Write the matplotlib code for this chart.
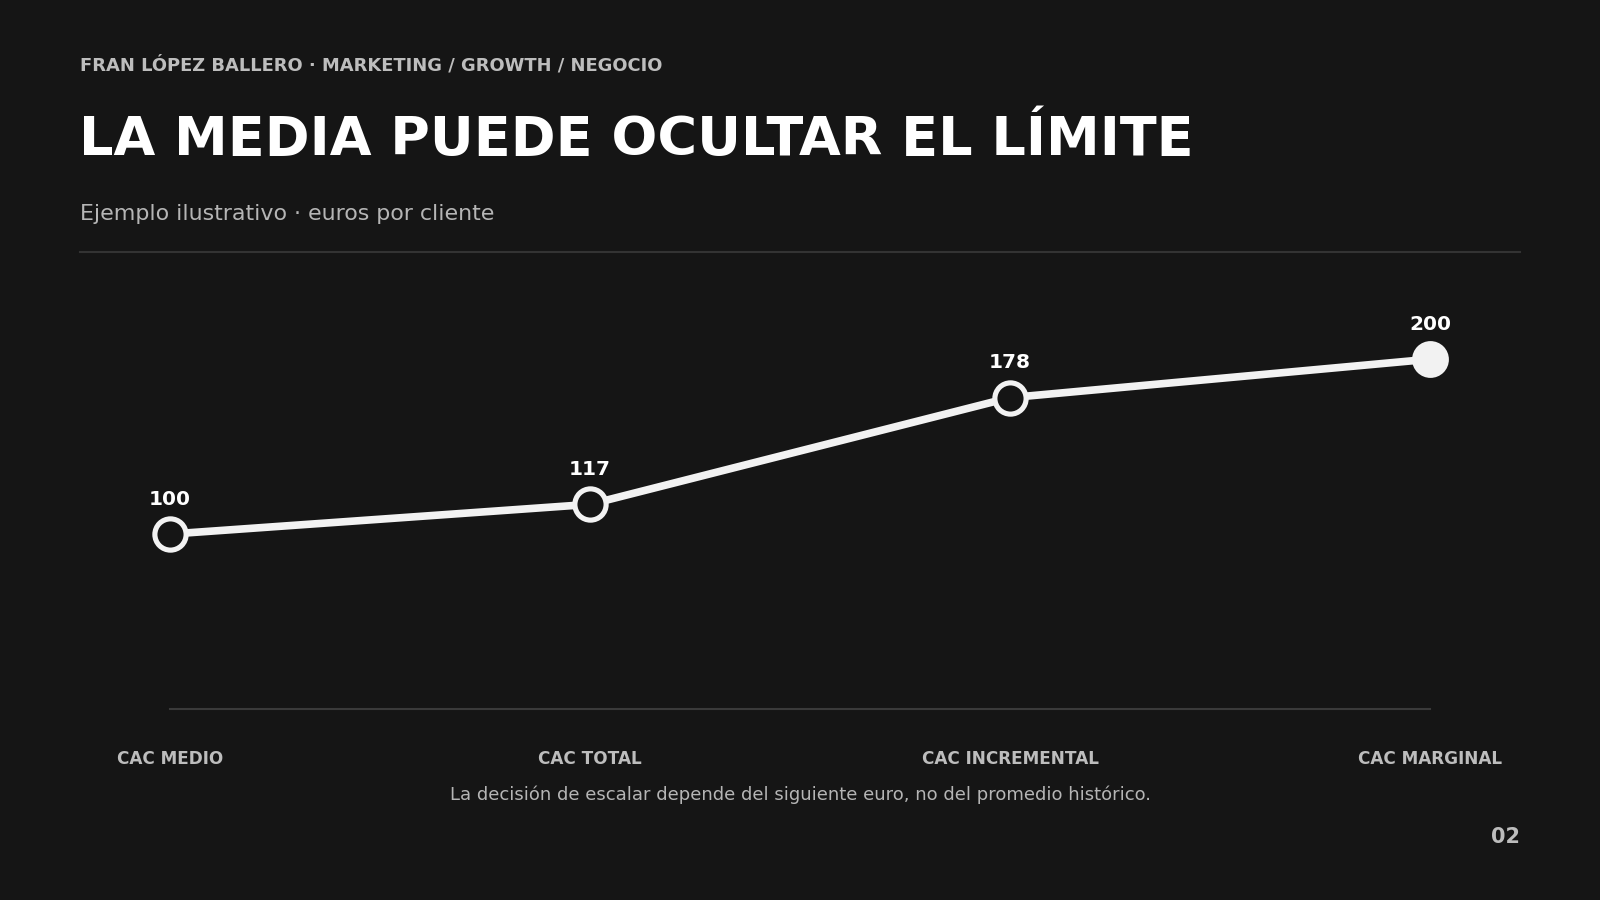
import matplotlib
matplotlib.use('Agg')
import matplotlib.pyplot as plt

categorias = ['CAC MEDIO', 'CAC TOTAL', 'CAC INCREMENTAL', 'CAC MARGINAL']
valores = [100, 117, 178, 200]

BG = '#151515'
W, H = 1600, 900

fig = plt.figure(figsize=(16, 9), dpi=100, facecolor=BG)
plt.rcParams['font.family'] = ['DejaVu Sans']

# cabecera
fig.text(80 / W, 1 - 71 / H, 'FRAN LÓPEZ BALLERO · MARKETING / GROWTH / NEGOCIO',
         color='#bdbdbd', fontsize=12.9, fontweight='bold', va='baseline', ha='left')
fig.text(79 / W, 1 - 155 / H, 'LA MEDIA PUEDE OCULTAR EL LÍMITE',
         color='white', fontsize=38.9, fontweight='bold', va='baseline', ha='left')
fig.text(80 / W, 1 - 220 / H, 'Ejemplo ilustrativo · euros por cliente',
         color='#b5b5b5', fontsize=15.9, va='baseline', ha='left')
fig.add_artist(plt.Line2D([80 / W, 1520 / W], [1 - 252 / H, 1 - 252 / H],
                          transform=fig.transFigure, color='#333333', lw=1.5))

# grafico
x0, x1 = 170, 1430
y_top, y_bot = 289.2, 709
ax = fig.add_axes([x0 / W, 1 - y_bot / H, (x1 - x0) / W, (y_bot - y_top) / H])
ax.set_facecolor(BG)
ax.set_xlim(0, len(categorias) - 1)
ax.set_ylim(0, 240)
for s in ax.spines.values():
    s.set_visible(False)
ax.set_xticks([])
ax.set_yticks([])

xs = list(range(len(categorias)))
ax.axhline(0, color='#3a3a3a', lw=1.5, clip_on=False)
ax.plot(xs, valores, color='#f2f2f2', lw=5.5, solid_capstyle='round', zorder=2, clip_on=False)
ax.plot(xs[:-1], valores[:-1], 'o', ms=22.5, mfc=BG, mec='#f2f2f2', mew=3.7, zorder=3, clip_on=False)
ax.plot(xs[-1:], valores[-1:], 'o', ms=25, mfc='#f2f2f2', mec='#f2f2f2', mew=1.5, zorder=3, clip_on=False)

for i, v in enumerate(valores):
    ax.annotate(str(v), xy=(i, v), xytext=(0, 21.2), textcoords='offset points',
                ha='center', va='baseline', color='white', fontsize=14.5, fontweight='bold')
    ax.annotate(categorias[i], xy=(i, 0), xytext=(0, -55 * 0.72), textcoords='offset points',
                ha='center', va='baseline', color='#bdbdbd', fontsize=12.2, fontweight='bold',
                annotation_clip=False)

fig.text(0.5, 1 - 800 / H, 'La decisión de escalar depende del siguiente euro, no del promedio histórico.',
         color='#b5b5b5', fontsize=12.95, ha='center', va='baseline')
fig.text(1520 / W, 1 - 843 / H, '02', color='#bdbdbd', fontsize=15, fontweight='bold',
         ha='right', va='baseline')

fig.savefig('out.png', dpi=100, facecolor=BG)
